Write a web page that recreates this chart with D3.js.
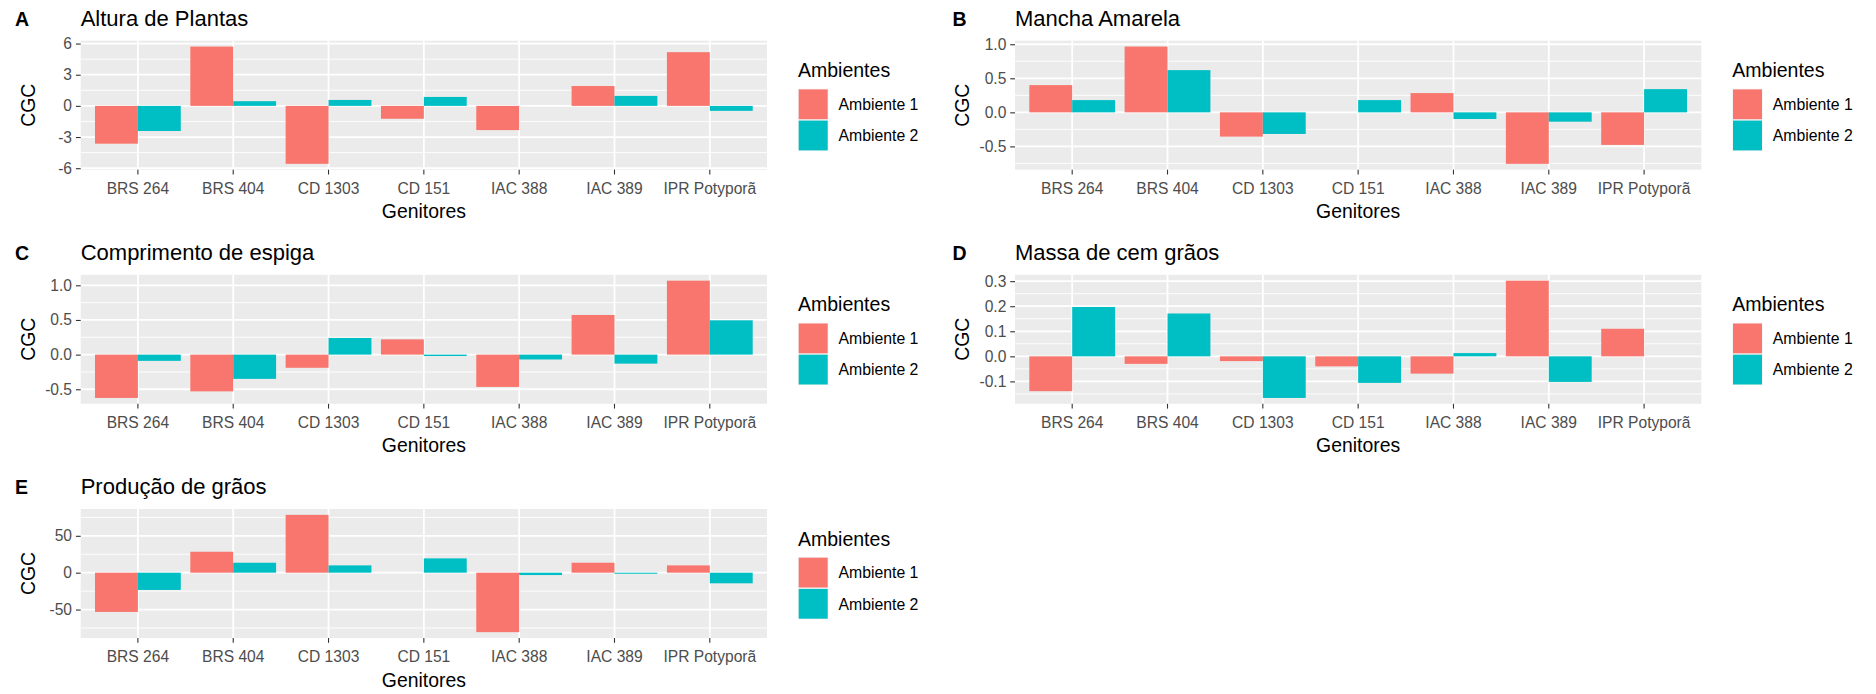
<!DOCTYPE html>
<html>
<head>
<meta charset="utf-8">
<script src="https://cdn.jsdelivr.net/npm/d3@7"></script>
<style>
  body { margin: 0; background: #ffffff; }
  svg text { font-family: "Liberation Sans", Arial, sans-serif; }
</style>
</head>
<body>
<svg id="fig" width="1876" height="694"></svg>
<script>
// ---- data ----
const genitores = ["BRS 264", "BRS 404", "CD 1303", "CD 151", "IAC 388", "IAC 389", "IPR Potyporã"];
const ambientes = ["Ambiente 1", "Ambiente 2"];

const alturaAmb1 = [-3.64, 5.71, -5.58, -1.24, -2.33, 1.91, 5.17];
const alturaAmb2 = [-2.42, 0.45, 0.57, 0.86, 0.0, 0.96, -0.48];
const alturaTicks = [-6, -3, 0, 3, 6];
const alturaTickLabels = ["-6", "-3", "0", "3", "6"];

const manchaAmb1 = [0.40, 0.966, -0.356, 0.0, 0.283, -0.756, -0.478];
const manchaAmb2 = [0.18, 0.62, -0.317, 0.18, -0.098, -0.137, 0.341];
const manchaTicks = [-0.5, 0.0, 0.5, 1.0];
const manchaTickLabels = ["-0.5", "0.0", "0.5", "1.0"];

const espigaAmb1 = [-0.625, -0.53, -0.19, 0.22, -0.466, 0.572, 1.067];
const espigaAmb2 = [-0.09, -0.35, 0.24, -0.02, -0.07, -0.13, 0.495];
const espigaTicks = [-0.5, 0.0, 0.5, 1.0];
const espigaTickLabels = ["-0.5", "0.0", "0.5", "1.0"];

const massaAmb1 = [-0.139, -0.030, -0.019, -0.040, -0.069, 0.302, 0.110];
const massaAmb2 = [0.197, 0.171, -0.166, -0.106, 0.013, -0.102, 0.0];
const massaTicks = [-0.1, 0.0, 0.1, 0.2, 0.3];
const massaTickLabels = ["-0.1", "0.0", "0.1", "0.2", "0.3"];

const producaoAmb1 = [-53.2, 28.4, 78.4, 0.0, -80.6, 13.5, 9.9];
const producaoAmb2 = [-23.4, 13.5, 9.9, 19.4, -3.2, -1.4, -14.4];
const producaoTicks = [-50, 0, 50];
const producaoTickLabels = ["-50", "0", "50"];

const fillColors = ["#F8766D", "#00BFC4"];

// ---- panel definitions ----
const panels = [
  { tag: "A", title: "Altura de Plantas",     col: 0, row: 0, series: [alturaAmb1, alturaAmb2],     ticks: alturaTicks,   labels: alturaTickLabels },
  { tag: "B", title: "Mancha Amarela",        col: 1, row: 0, series: [manchaAmb1, manchaAmb2],     ticks: manchaTicks,   labels: manchaTickLabels },
  { tag: "C", title: "Comprimento de espiga", col: 0, row: 1, series: [espigaAmb1, espigaAmb2],     ticks: espigaTicks,   labels: espigaTickLabels },
  { tag: "D", title: "Massa de cem grãos",    col: 1, row: 1, series: [massaAmb1, massaAmb2],       ticks: massaTicks,    labels: massaTickLabels },
  { tag: "E", title: "Produção de grãos",     col: 0, row: 2, series: [producaoAmb1, producaoAmb2], ticks: producaoTicks, labels: producaoTickLabels }
];

// ---- layout ----
const colLeft = [80.7, 1015];
const tagX = [15, 952.5];
const rowTop = [40.7, 274.8, 509];
const plotW = 686.3;
const plotH = 129;

const sizeTick = 15.6;
const sizeAxisTitle = 19.4;
const sizeTitle = 22;
const sizeLegendTitle = 19.5;
const sizeLegendText = 15.8;

const svg = d3.select("#fig");

function drawPanel(p) {
  const left = colLeft[p.col];
  const top = rowTop[p.row];
  const bottom = top + plotH;
  const right = left + plotW;
  const g = svg.append("g").attr("class", "panel-" + p.tag);

  // discrete x scale with 0.6-unit expansion and 0.9-wide dodged bars
  const x = d3.scaleBand().domain(genitores).range([left, right])
    .paddingInner(0.1).paddingOuter(0.15);
  const xs = d3.scaleBand().domain(ambientes).range([0, x.bandwidth()]);

  // continuous y scale, 5% expansion around the bar extents (bars include 0)
  const all = p.series[0].concat(p.series[1], [0]);
  const lo = d3.min(all), hi = d3.max(all);
  const pad = (hi - lo) * 0.05;
  const y = d3.scaleLinear().domain([lo - pad, hi + pad]).range([bottom, top]);
  const [d0, d1] = y.domain();

  // panel background
  g.append("rect").attr("x", left).attr("y", top)
    .attr("width", plotW).attr("height", plotH).attr("fill", "#EBEBEB");

  // minor grid lines halfway between major breaks
  const step = p.ticks[1] - p.ticks[0];
  const minors = [p.ticks[0] - step / 2].concat(p.ticks.map(t => t + step / 2))
    .filter(v => v > d0 && v < d1);
  g.selectAll("line.minor").data(minors).join("line")
    .attr("x1", left).attr("x2", right)
    .attr("y1", d => y(d)).attr("y2", d => y(d))
    .attr("stroke", "#ffffff").attr("stroke-width", 0.9);

  // major grid lines
  g.selectAll("line.majorY").data(p.ticks).join("line")
    .attr("x1", left).attr("x2", right)
    .attr("y1", d => y(d)).attr("y2", d => y(d))
    .attr("stroke", "#ffffff").attr("stroke-width", 1.8);
  g.selectAll("line.majorX").data(genitores).join("line")
    .attr("x1", d => x(d) + x.bandwidth() / 2).attr("x2", d => x(d) + x.bandwidth() / 2)
    .attr("y1", top).attr("y2", bottom)
    .attr("stroke", "#ffffff").attr("stroke-width", 1.8);

  // bars
  const bars = [];
  genitores.forEach((gen, i) => {
    ambientes.forEach((amb, s) => {
      bars.push({ gen, amb, s, v: p.series[s][i] });
    });
  });
  g.selectAll("rect.bar").data(bars).join("rect")
    .attr("x", d => x(d.gen) + xs(d.amb))
    .attr("width", xs.bandwidth())
    .attr("y", d => y(Math.max(0, d.v)))
    .attr("height", d => Math.abs(y(d.v) - y(0)))
    .attr("fill", d => fillColors[d.s]);

  // y axis
  const yAxis = g.append("g").attr("transform", `translate(${left},0)`)
    .call(d3.axisLeft(y).tickValues(p.ticks).tickFormat((d, i) => p.labels[i])
      .tickSize(4.8).tickPadding(3.9));
  yAxis.select(".domain").remove();
  yAxis.selectAll(".tick line").attr("stroke", "#333333").attr("stroke-width", 1.1);
  yAxis.selectAll(".tick text").attr("fill", "#4D4D4D")
    .attr("font-size", sizeTick).attr("font-family", null);

  // x axis
  const xAxis = g.append("g").attr("transform", `translate(0,${bottom})`)
    .call(d3.axisBottom(x).tickSize(4.8).tickPadding(3.9));
  xAxis.select(".domain").remove();
  xAxis.selectAll(".tick line").attr("stroke", "#333333").attr("stroke-width", 1.1);
  xAxis.selectAll(".tick text").attr("fill", "#4D4D4D")
    .attr("font-size", sizeTick).attr("font-family", null)
    .attr("y", 24).attr("dy", 0);

  // axis titles
  g.append("text").attr("x", (left + right) / 2).attr("y", bottom + 48.5)
    .attr("text-anchor", "middle").attr("font-size", sizeAxisTitle).attr("fill", "#000")
    .text("Genitores");
  g.append("text")
    .attr("transform", `translate(${left - 46.2},${top + plotH / 2}) rotate(-90)`)
    .attr("text-anchor", "middle").attr("font-size", sizeAxisTitle).attr("fill", "#000")
    .text("CGC");

  // tag and title
  g.append("text").attr("x", tagX[p.col]).attr("y", top - 15)
    .attr("font-size", 19.5).attr("font-weight", "bold").attr("fill", "#000")
    .text(p.tag);
  g.append("text").attr("x", left).attr("y", top - 15)
    .attr("font-size", sizeTitle).attr("fill", "#000")
    .text(p.title);

  // legend
  const lx = right + 31;
  const leg = g.append("g");
  leg.append("text").attr("x", lx).attr("y", top + 36.6)
    .attr("font-size", sizeLegendTitle).attr("fill", "#000").text("Ambientes");
  ambientes.forEach((amb, s) => {
    const ky = top + 48 + s * 31.2;
    leg.append("rect").attr("x", lx).attr("y", ky).attr("width", 30.4).attr("height", 31.2)
      .attr("fill", "#F2F2F2");
    leg.append("rect").attr("x", lx + 0.7).attr("y", ky + 0.7).attr("width", 29).attr("height", 29.8)
      .attr("fill", fillColors[s]);
    leg.append("text").attr("x", lx + 40.5).attr("y", ky + 15.6 + 5.8)
      .attr("font-size", sizeLegendText).attr("fill", "#000").text(amb);
  });
}

panels.forEach(drawPanel);
</script>
</body>
</html>
